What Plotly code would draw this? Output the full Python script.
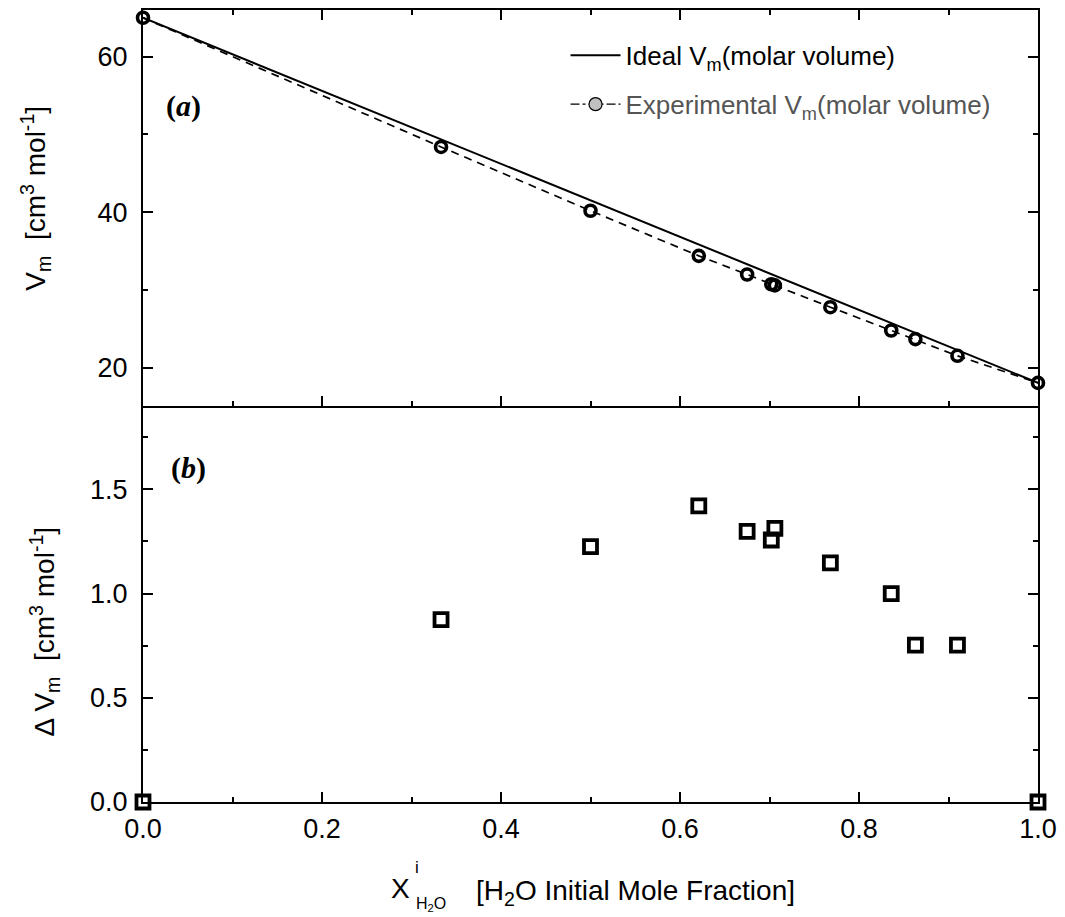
import plotly.graph_objects as go
from plotly.subplots import make_subplots

# ---- data ----
x_h2o = [0.0, 0.333, 0.5, 0.621, 0.675, 0.702, 0.706, 0.768, 0.836, 0.863, 0.910, 1.0]
vm_exp = [65.0, 48.4, 40.2, 34.4, 32.0, 30.75, 30.6, 27.8, 24.8, 23.7, 21.55, 18.07]
ideal_x = [0.0, 1.0]
ideal_vm = [65.0, 18.07]
delta_vm = [0.0, 0.875, 1.225, 1.421, 1.298, 1.257, 1.313, 1.147, 1.0, 0.753, 0.753, 0.0]

x_ticks = [0.0, 0.2, 0.4, 0.6, 0.8, 1.0]
y1_ticks = [20, 40, 60]
y2_ticks = [0.0, 0.5, 1.0, 1.5]

FONT = "Liberation Sans, Arial, sans-serif"
SERIF = "Liberation Serif, Times New Roman, serif"

fig = make_subplots(rows=2, cols=1, shared_xaxes=False, vertical_spacing=0.0)

# ideal line
fig.add_trace(go.Scatter(x=ideal_x, y=ideal_vm, mode="lines",
                         line=dict(color="black", width=2),
                         name="Ideal V<sub>m</sub>(molar volume)",
                         legendgroup="a", showlegend=True), row=1, col=1)
# experimental
fig.add_trace(go.Scatter(x=x_h2o, y=vm_exp, mode="lines+markers",
                         line=dict(color="black", width=1.7, dash="8px,6px"),
                         marker=dict(symbol="circle-open", size=11, color="black",
                                     line=dict(width=3.6, color="black")),
                         cliponaxis=False, showlegend=False), row=1, col=1)
# legend entry for experimental
fig.add_trace(go.Scatter(x=[None], y=[None], mode="lines+markers",
                         line=dict(color="black", width=1.2, dash="dashdot"),
                         marker=dict(symbol="circle", size=13, color="#c0c0c0",
                                     line=dict(width=1.2, color="black")),
                         name='<span style="color:#555555">Experimental V<sub>m</sub>(molar volume)</span>',
                         legendgroup="b", showlegend=True), row=1, col=1)
# delta
fig.add_trace(go.Scatter(x=x_h2o, y=delta_vm, mode="markers",
                         marker=dict(symbol="square-open", size=13, color="black",
                                     line=dict(width=3.8, color="black")),
                         cliponaxis=False, showlegend=False), row=2, col=1)

axis_common = dict(showline=True, linecolor="black", linewidth=2, ticks="inside",
                   tickcolor="black", tickwidth=1.5, showgrid=False, zeroline=False,
                   tickfont=dict(family=FONT, size=27, color="black"))

fig.update_xaxes(**axis_common, range=[0, 1], tickvals=x_ticks, ticklen=10,
                 minor=dict(dtick=0.1, ticks="inside", ticklen=5, tickwidth=1.5, tickcolor="black"))
fig.update_xaxes(mirror="ticks", showticklabels=False, row=1, col=1)
fig.update_xaxes(mirror=False, tickformat=".1f", ticklabelstandoff=2, row=2, col=1)

fig.update_yaxes(**axis_common, ticklen=10, mirror="ticks", ticklabelstandoff=8)
fig.update_yaxes(range=[15.1, 66], tickvals=y1_ticks,
                 minor=dict(dtick=10, ticks="inside", ticklen=5, tickwidth=1.5, tickcolor="black"),
                 row=1, col=1)
fig.update_yaxes(range=[0, 1.9], tickvals=y2_ticks, tickformat=".1f",
                 minor=dict(dtick=0.25, ticks="inside", ticklen=5, tickwidth=1.5, tickcolor="black"),
                 row=2, col=1)

fig.update_layout(yaxis=dict(domain=[0.5, 1.0]), yaxis2=dict(domain=[0.0, 0.5]))


def px2paper(px, py):
    return (px - 143) / 896, (802 - py) / 794


anns = []
def add_ann(text, px, py, size, family=FONT, angle=0, xanchor="center", yanchor="middle", color="black"):
    x, y = px2paper(px, py)
    anns.append(dict(text=text, x=x, y=y, xref="paper", yref="paper", showarrow=False,
                     xanchor=xanchor, yanchor=yanchor, textangle=angle,
                     font=dict(family=family, size=size, color=color)))

add_ann("<b>(<i>a</i>)</b>", 184, 104, 30, family=SERIF)
add_ann("<b>(<i>b</i>)</b>", 189, 467, 30, family=SERIF)
add_ann("V<sub>m</sub>  [cm<sup>3</sup> mol<sup>-1</sup>]", 35, 197, 28, angle=-90)
add_ann("Δ V<sub>m</sub>  [cm<sup>3</sup> mol<sup>-1</sup>]", 45, 631, 28, angle=-90)
add_ann("X", 389, 889, 28, xanchor="left")
add_ann("i", 413, 868, 17, xanchor="left")
add_ann("H<sub>2</sub>O", 414, 905, 16, xanchor="left")
add_ann("[H<sub>2</sub>O Initial Mole Fraction]", 474, 893, 28, xanchor="left")

fig.update_layout(
    width=1065, height=917,
    margin=dict(l=143, r=26, t=8, b=115),
    paper_bgcolor="white", plot_bgcolor="white",
    font=dict(family=FONT, size=26, color="black"),
    annotations=anns,
    legend=dict(x=px2paper(566, 0)[0], y=px2paper(0, 30)[1], xanchor="left", yanchor="top",
                bgcolor="rgba(0,0,0,0)", font=dict(family=FONT, size=26, color="black"),
                traceorder="grouped", tracegroupgap=12, itemwidth=50),
)

fig.write_html("out.html")
